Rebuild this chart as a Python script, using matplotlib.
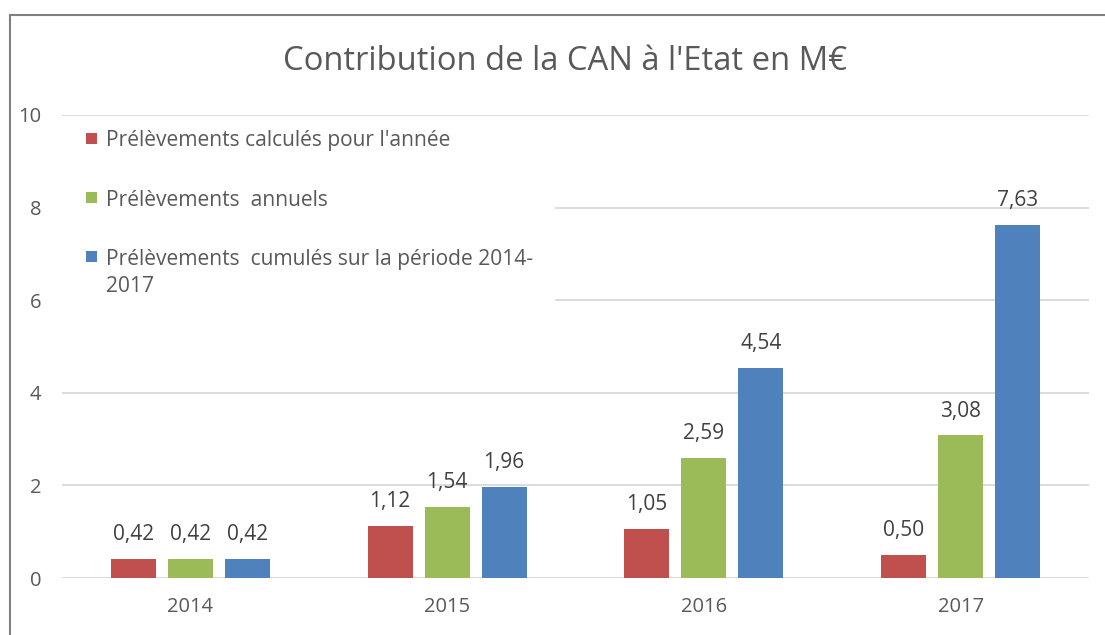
import matplotlib
matplotlib.use('Agg')
import matplotlib.pyplot as plt
import numpy as np
from matplotlib.lines import Line2D
from matplotlib.patches import Rectangle

plt.rcParams['font.family'] = ['Open Sans', 'DejaVu Sans']

# data
years = ['2014', '2015', '2016', '2017']
calcules = [0.42, 1.12, 1.05, 0.50]
annuels = [0.42, 1.54, 2.59, 3.08]
cumules = [0.42, 1.96, 4.54, 7.63]
labels = ["Prélèvements calculés pour l'année",
          "Prélèvements  annuels",
          "Prélèvements  cumulés sur la période 2014-\n2017"]
colors = ['#C0504D', '#9BBB59', '#4F81BD']

W, H = 1105, 635
fig = plt.figure(figsize=(W / 100, H / 100), dpi=100)
ax = fig.add_axes([62 / W, 1 - 578 / H, 1027 / W, 463 / H])

x = np.arange(len(years))
w = 0.175
step = 0.222
for i, (vals, col) in enumerate(zip([calcules, annuels, cumules], colors)):
    ax.bar(x + (i - 1) * step, vals, width=w, color=col, zorder=3)
    for xi, v in zip(x + (i - 1) * step, vals):
        ax.annotate(f'{v:.2f}'.replace('.', ','), (xi, v), xytext=(0, 10),
                    textcoords='offset points', ha='center', va='bottom',
                    fontsize=15, color='#404040', zorder=4)

ax.set_xlim(-0.5, 3.5)
ax.set_ylim(0, 10)
ax.set_yticks(range(0, 11, 2))
ax.set_xticks(x, years)
ax.yaxis.grid(True, color='#D9D9D9', linewidth=1.3)
ax.set_axisbelow(True)
for s in ax.spines.values():
    s.set_visible(False)
ax.tick_params(length=0, labelsize=14.5, labelcolor='#595959')
ax.tick_params(axis='y', pad=15)
ax.tick_params(axis='x', pad=14)


def fx(px):
    return px / W


def fy(py):
    return 1 - py / H


# legend drawn by hand: white box over the grid, square markers aligned with first line
fig.add_artist(Rectangle((fx(62), fy(312)), fx(555) - fx(62), fy(120) - fy(312),
                         facecolor='white', edgecolor='none', transform=fig.transFigure, zorder=5))
for k, (lab, col) in enumerate(zip(labels, colors)):
    yc = 138 + k * 59.5
    fig.add_artist(Rectangle((fx(86), fy(yc + 5.5)), fx(11), 11 / H, facecolor=col,
                             edgecolor='none', transform=fig.transFigure, zorder=6))
    fig.text(fx(106), fy(yc - 8), lab, ha='left', va='top', fontsize=15.1, color='#595959',
             linespacing=1.35, zorder=6)

fig.text(565 / W, fy(61), "Contribution de la CAN à l'Etat en M€", ha='center', va='center',
         fontsize=23.6, color='#595959')

# chart frame
fig.add_artist(Line2D([fx(10), fx(10)], [0, fy(15)], color='#808080', linewidth=1.5))
fig.add_artist(Line2D([fx(10), 1], [fy(15), fy(15)], color='#808080', linewidth=1.5))

fig.savefig('out.png', dpi=100)
